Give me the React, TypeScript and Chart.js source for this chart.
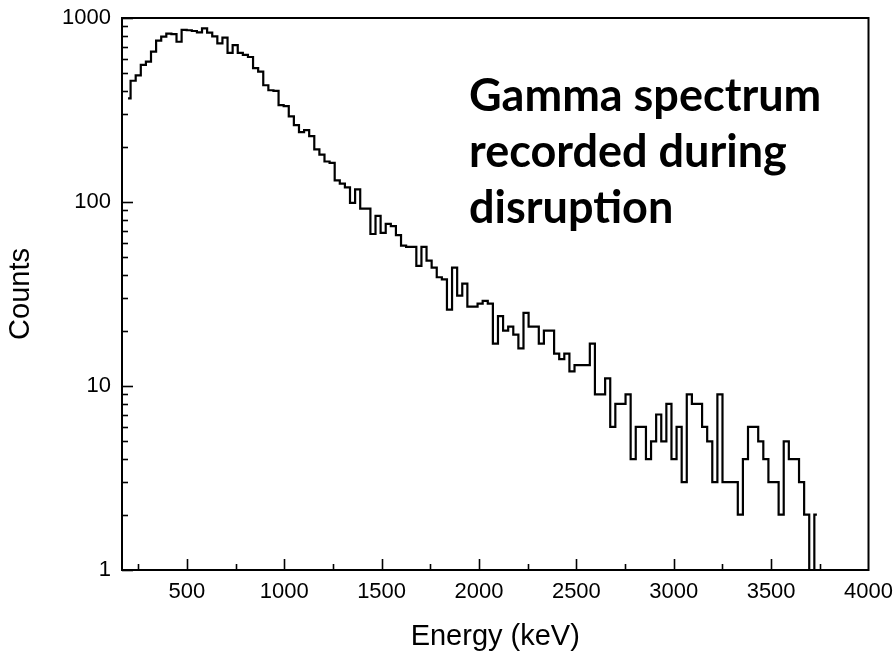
import React, { useEffect, useRef } from 'react';
import { Chart, registerables } from 'chart.js';

Chart.register(...registerables);

// Detector bin calibration (centre of first bin and bin width, keV)
const binStartKeV = 198;
const binWidthKeV = 26.2;

// Counts per bin
const counts = [
  366, 456, 488, 556, 579, 656, 753, 793, 822, 818,
  743, 861, 858, 850, 836, 879, 832, 794, 728, 782,
  646, 713, 647, 630, 614, 534, 511, 431, 405, 402,
  336, 332, 292, 262, 240, 246, 228, 193, 181, 166,
  163, 131, 126, 120, 99, 117, 92, 92, 67, 84,
  68, 76, 74, 66, 58, 57, 57, 45, 57, 48,
  44, 39, 38, 26, 44, 31, 36, 27, 27, 28,
  29, 28, 17, 24, 20, 21, 19, 16, 25, 21,
  21, 17, 20, 20, 15, 14, 15, 12, 13, 13,
  13, 17, 9, 9, 11, 6, 8, 8, 9, 4,
  6, 6, 4, 5, 7, 5, 8, 4, 6, 3,
  9, 8, 8, 6, 5, 3, 9, 3, 3, 3,
  2, 4, 6, 6, 5, 4, 3, 3, 2, 5,
  4, 4, 3, 2, 1, 2,
];

const xMin = 167;
const xMax = 4000;
const xTickValues = [500, 1000, 1500, 2000, 2500, 3000, 3500, 4000];
const xMinorTickValues = [250, 750, 1250, 1750, 2250, 2750, 3250, 3750];
const yTickValues = [1, 10, 100, 1000];
const yMinorMultipliers = [2, 3, 4, 5, 6, 7, 8, 9];

const titleLines = ['Gamma spectrum', 'recorded during', 'disruption'];
const xTitle = 'Energy (keV)';
const yTitle = 'Counts';

const decorPlugin = {
  id: 'decor',
  afterDatasetsDraw(chart: any) {
    const { ctx, chartArea: a, scales } = chart;
    const xs = scales.x;
    const ys = scales.y;
    ctx.save();
    ctx.strokeStyle = '#000';
    ctx.lineWidth = 1.6;
    const drawX = (v: number, len: number) => {
      const px = Math.round(xs.getPixelForValue(v)) + 0.5;
      ctx.beginPath();
      ctx.moveTo(px, a.bottom);
      ctx.lineTo(px, a.bottom - len);
      ctx.stroke();
    };
    xTickValues.forEach((v) => { if (v > xMin && v < xMax) drawX(v, 11); });
    xMinorTickValues.forEach((v) => { if (v > xMin && v < xMax) drawX(v, 6); });
    const drawY = (v: number, len: number) => {
      const py = Math.round(ys.getPixelForValue(v)) + 0.5;
      ctx.beginPath();
      ctx.moveTo(a.left, py);
      ctx.lineTo(a.left + len, py);
      ctx.stroke();
    };
    yTickValues.forEach((v) => drawY(v, 11));
    yTickValues.slice(0, -1).forEach((d) => {
      yMinorMultipliers.forEach((m) => drawY(d * m, 6));
    });
    ctx.lineWidth = 2;
    ctx.strokeRect(a.left, a.top, a.right - a.left, a.bottom - a.top);
    ctx.fillStyle = '#000';
    ctx.font = 'bold 45px Lato';
    ctx.textAlign = 'left';
    ctx.textBaseline = 'alphabetic';
    titleLines.forEach((t, i) => ctx.fillText(t, 469, 111 + i * 56));
    ctx.restore();
  },
};

export default function App() {
  const ref = useRef<HTMLCanvasElement | null>(null);
  useEffect(() => {
    if (!ref.current) return;
    const data = counts.map((c, i) => ({ x: binStartKeV + i * binWidthKeV, y: c }));
    const chart = new Chart(ref.current, {
      type: 'line',
      data: {
        datasets: [
          {
            data,
            borderColor: '#000',
            borderWidth: 2.2,
            stepped: 'middle',
            pointRadius: 0,
            fill: false,
          } as any,
        ],
      },
      options: {
        animation: false,
        responsive: true,
        maintainAspectRatio: false,
        parsing: false as any,
        layout: { padding: { left: 0, right: 27.5, top: 18, bottom: 0 } },
        plugins: { legend: { display: false }, tooltip: { enabled: false } },
        scales: {
          x: {
            type: 'linear',
            min: xMin,
            max: xMax,
            afterBuildTicks: (s: any) => { s.ticks = xTickValues.map((v) => ({ value: v })); },
            afterFit: (s: any) => { s.height = 84; s.paddingLeft = 0; s.paddingRight = 0; },
            grid: { display: false, drawTicks: false },
            border: { display: false },
            ticks: {
              color: '#000',
              font: { family: 'Liberation Sans', size: 22 },
              padding: 9,
              maxRotation: 0,
              autoSkip: false,
              callback: (v: any) => String(v),
            },
            title: {
              display: true,
              text: xTitle,
              color: '#000',
              font: { family: 'Liberation Sans', size: 29 },
              padding: { top: 0, bottom: 0 },
            },
          },
          y: {
            type: 'logarithmic',
            min: 1,
            max: 1000,
            afterBuildTicks: (s: any) => { s.ticks = yTickValues.map((v) => ({ value: v })); },
            afterFit: (s: any) => { s.width = 122; s.paddingTop = 0; s.paddingBottom = 0; },
            grid: { display: false, drawTicks: false },
            border: { display: false },
            ticks: {
              color: '#000',
              font: { family: 'Liberation Sans', size: 22 },
              padding: 11,
              autoSkip: false,
              callback: (v: any) => String(v),
            },
            title: {
              display: true,
              text: yTitle,
              color: '#000',
              font: { family: 'Liberation Sans', size: 29 },
              padding: { top: 4, bottom: 0 },
            },
          },
        },
      } as any,
      plugins: [decorPlugin],
    });
    return () => chart.destroy();
  }, []);
  return (
    <div style={{ position: 'fixed', left: 0, top: 0, width: 896, height: 654, background: '#fff' }}>
      <canvas ref={ref} />
    </div>
  );
}
